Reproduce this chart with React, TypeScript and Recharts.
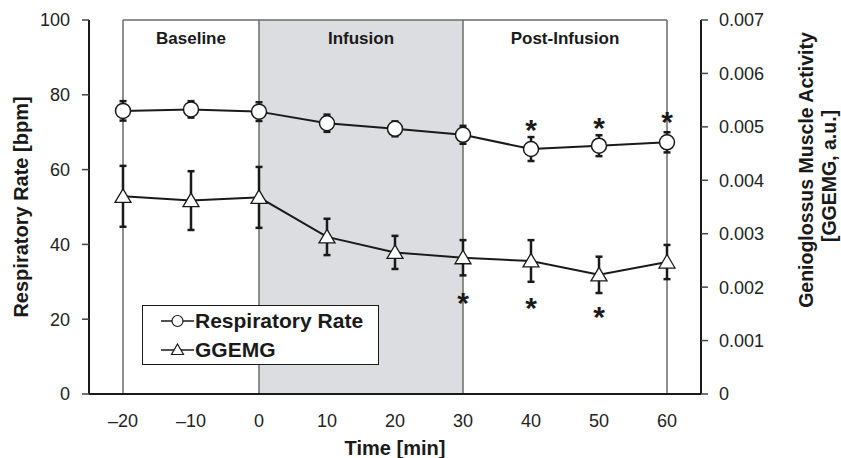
import React from "react";
import {
  ComposedChart,
  Line,
  Scatter,
  XAxis,
  YAxis,
  ErrorBar,
  ReferenceArea,
  ReferenceLine,
  Legend,
} from "recharts";

const times = [-20, -10, 0, 10, 20, 30, 40, 50, 60];
const respRate = [75.7, 76.1, 75.5, 72.4, 70.9, 69.3, 65.5, 66.4, 67.3];
const respRateErr = [2.6, 2.2, 2.5, 2.3, 2.0, 2.4, 3.2, 2.8, 2.7];
const ggemg = [0.0037, 0.00362, 0.00368, 0.00294, 0.00265, 0.00255, 0.00249, 0.00223, 0.00247];
const ggemgErr = [0.00057, 0.00055, 0.00057, 0.00034, 0.00031, 0.00033, 0.00039, 0.00034, 0.00032];

const timeTicks = [-20, -10, 0, 10, 20, 30, 40, 50, 60];
const rateTicks = [0, 20, 40, 60, 80, 100];
const ggemgTicks = [0, 0.001, 0.002, 0.003, 0.004, 0.005, 0.006, 0.007];

const phaseNames = ["Baseline", "Infusion", "Post-Infusion"];
const phaseBounds = [-20, 0, 30, 60];
const phaseShaded = [false, true, false];

// significance markers (asterisks)
const rateStarTimes = [40, 50, 60];
const rateStarLevels = [72.5, 73.0, 74.6];
const ggemgStarTimes = [30, 40, 50];
const ggemgStarLevels = [0.00183, 0.00175, 0.00157];

const data = times.map((t, i) => ({
  t,
  rr: respRate[i],
  rrErr: respRateErr[i],
  gg: ggemg[i],
  ggErr: ggemgErr[i],
}));
const rateStars = rateStarTimes.map((t, i) => ({ t, v: rateStarLevels[i] }));
const ggemgStars = ggemgStarTimes.map((t, i) => ({ t, v: ggemgStarLevels[i] }));

const FONT = '"Liberation Sans", Arial, Helvetica, sans-serif';
const INK = "#1a1a1a";

const circleDot = (p: any) => (
  <circle key={`c${p.index}`} cx={p.cx} cy={p.cy} r={7.5} fill="#fff" stroke={INK} strokeWidth={1.5} />
);

const triangleDot = (p: any) => (
  <path
    key={`t${p.index}`}
    d={`M${p.cx},${p.cy - 7.5} L${p.cx + 8},${p.cy + 6} L${p.cx - 8},${p.cy + 6} Z`}
    fill="#fff"
    stroke={INK}
    strokeWidth={1.3}
  />
);

const asterisk = (p: any) => (
  <text x={p.cx} y={p.cy + 17} textAnchor="middle" fontFamily={FONT} fontWeight={700} fontSize={30} fill={INK}>
    *
  </text>
);

const PhaseLabel = (props: any) => {
  const vb = props.viewBox || { x: 0, width: 0 };
  return (
    <text x={vb.x + vb.width / 2} y={44} textAnchor="middle" fontFamily={FONT} fontWeight={700} fontSize={17} fill={INK}>
      {props.text}
    </text>
  );
};

const legendRows = [
  { name: "Respiratory Rate", shape: "circle" },
  { name: "GGEMG", shape: "triangle" },
];

const renderLegend = () => (
  <div
    style={{
      boxSizing: "border-box",
      width: 237,
      height: 60,
      border: `1.5px solid ${INK}`,
      background: "#fff",
      paddingLeft: 18,
      fontFamily: FONT,
      fontWeight: 700,
      fontSize: 21,
      color: INK,
    }}
  >
    {legendRows.map((row) => (
      <div key={row.name} style={{ display: "flex", alignItems: "center", height: 29 }}>
        <svg width={33} height={20} style={{ marginRight: 1 }}>
          <line x1={0} y1={10} x2={33} y2={10} stroke={INK} strokeWidth={1.5} />
          {row.shape === "circle" ? (
            <circle cx={16.5} cy={10} r={5.5} fill="#fff" stroke={INK} strokeWidth={1.2} />
          ) : (
            <path d="M16.5,4 L22.5,14.5 L10.5,14.5 Z" fill="#fff" stroke={INK} strokeWidth={1.2} />
          )}
        </svg>
        <span>{row.name}</span>
      </div>
    ))}
  </div>
);

const tickStyle = { fontFamily: FONT, fontSize: 18, fill: "#222" };

export default function App() {
  return (
    <div style={{ position: "absolute", left: 0, top: 0, width: 841, height: 458, background: "#fff" }}>
      <ComposedChart width={841} height={458} data={data} margin={{ top: 20, right: 0, bottom: 0, left: 0 }}>
        {phaseNames.map((name, i) => (
          <ReferenceArea
            key={name}
            yAxisId="rate"
            x1={phaseBounds[i]}
            x2={phaseBounds[i + 1]}
            y1={0}
            y2={100}
            fill={phaseShaded[i] ? "#dcdde0" : "#ffffff"}
            fillOpacity={phaseShaded[i] ? 1 : 0}
            stroke="none"
            label={<PhaseLabel text={name} />}
          />
        ))}
        {phaseBounds.map((b) => (
          <ReferenceLine key={b} yAxisId="rate" x={b} stroke="#6a6a6a" strokeWidth={1.5} />
        ))}
        <ReferenceLine
          yAxisId="rate"
          segment={[
            { x: phaseBounds[0], y: 100 },
            { x: phaseBounds[phaseBounds.length - 1], y: 100 },
          ]}
          stroke="#6a6a6a"
          strokeWidth={1.5}
        />
        <XAxis
          dataKey="t"
          type="number"
          domain={[-25, 65]}
          ticks={timeTicks}
          tickFormatter={(v: number) => (v < 0 ? `\u2013${Math.abs(v)}` : `${v}`)}
          tickLine={false}
          tickSize={0}
          tickMargin={20}
          height={64}
          axisLine={{ stroke: INK, strokeWidth: 2 }}
          tick={tickStyle}
          label={
            <g fontFamily={FONT} fontWeight={700} fontSize={20} fill={INK}>
              <text x={395} y={448} textAnchor="middle" dominantBaseline="central">
                Time [min]
              </text>
            </g>
          }
        />
        <YAxis
          yAxisId="rate"
          orientation="left"
          domain={[0, 100]}
          ticks={rateTicks}
          width={89}
          tickSize={7}
          tickMargin={12}
          axisLine={{ stroke: INK, strokeWidth: 2 }}
          tickLine={{ stroke: "#444", strokeWidth: 1.5 }}
          tick={tickStyle}
          label={
            <g fontFamily={FONT} fontWeight={700} fontSize={20} fill={INK}>
              <text x={21} y={207} transform="rotate(-90 21 207)" textAnchor="middle" dominantBaseline="central">
                Respiratory Rate [bpm]
              </text>
            </g>
          }
        />
        <YAxis
          yAxisId="gg"
          orientation="right"
          domain={[0, 0.007]}
          ticks={ggemgTicks}
          tickFormatter={(v: number) => (v === 0 ? "0" : v.toFixed(3))}
          width={140}
          tickSize={7}
          tickMargin={11}
          axisLine={{ stroke: INK, strokeWidth: 2 }}
          tickLine={{ stroke: "#444", strokeWidth: 1.5 }}
          tick={tickStyle}
          label={
            <g fontFamily={FONT} fontWeight={700} fontSize={19.5} fill={INK}>
              <text x={806} y={170} transform="rotate(-90 806 170)" textAnchor="middle" dominantBaseline="central">
                Genioglossus Muscle Activity
              </text>
              <text x={829} y={176} transform="rotate(-90 829 176)" textAnchor="middle" dominantBaseline="central">
                [GGEMG, a.u.]
              </text>
            </g>
          }
        />
        <Legend
          layout="horizontal"
          verticalAlign="middle"
          align="center"
          content={renderLegend}
          wrapperStyle={{ left: 142, top: 305, width: 237, height: 60 }}
        />
        <Line
          yAxisId="rate"
          dataKey="rr"
          name="Respiratory Rate"
          stroke={INK}
          strokeWidth={2}
          dot={circleDot}
          activeDot={false}
          isAnimationActive={false}
        >
          <ErrorBar dataKey="rrErr" width={3.5} stroke={INK} strokeWidth={2.5} direction="y" isAnimationActive={false} />
        </Line>
        <Line
          yAxisId="gg"
          dataKey="gg"
          name="GGEMG"
          stroke={INK}
          strokeWidth={2}
          dot={triangleDot}
          activeDot={false}
          isAnimationActive={false}
        >
          <ErrorBar dataKey="ggErr" width={3.5} stroke={INK} strokeWidth={2.5} direction="y" isAnimationActive={false} />
        </Line>
        <Scatter yAxisId="rate" data={rateStars} dataKey="v" shape={asterisk} legendType="none" isAnimationActive={false} />
        <Scatter yAxisId="gg" data={ggemgStars} dataKey="v" shape={asterisk} legendType="none" isAnimationActive={false} />
      </ComposedChart>
    </div>
  );
}
